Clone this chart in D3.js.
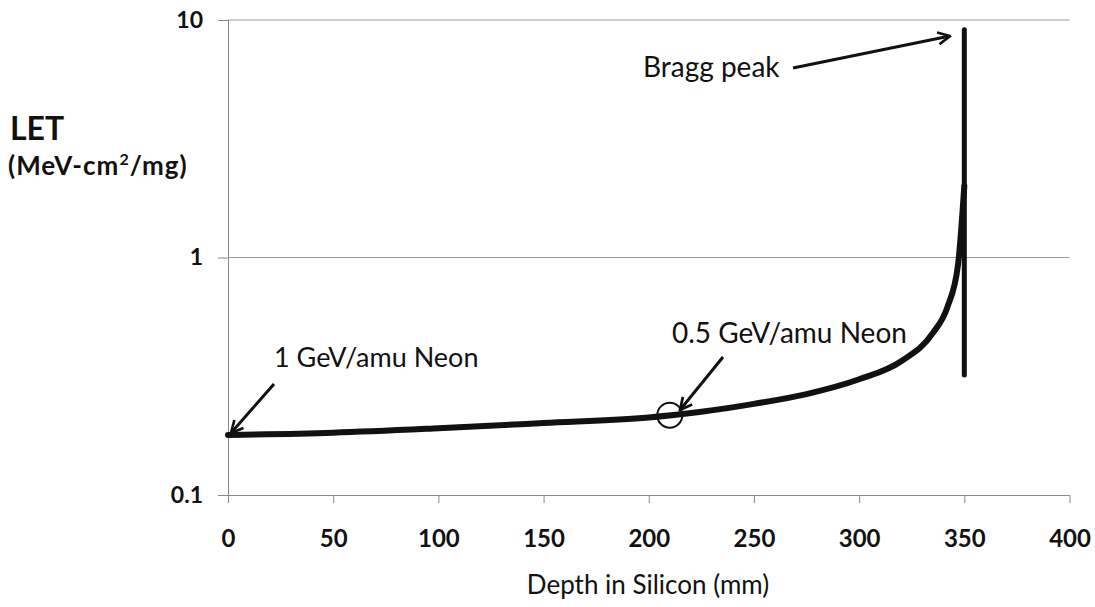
<!DOCTYPE html>
<html>
<head>
<meta charset="utf-8">
<script src="https://cdn.jsdelivr.net/npm/d3@7"></script>
<style>
  body { margin: 0; background: #fff; }
  text { font-family: Lato, "Open Sans", sans-serif; fill: #111; }
</style>
</head>
<body>
<svg width="1095" height="607"></svg>
<script>
// datos
const depth = [0, 50, 100, 150, 200, 225, 250, 275, 300, 320, 335, 342, 347, 350];
const letValues = [0.179, 0.183, 0.191, 0.201, 0.212, 0.224, 0.242, 0.266, 0.307, 0.366, 0.48, 0.62, 0.93, 2.0];
const braggDepth = 350;
const braggRange = [0.32, 9.1];
const xTicks = [0, 50, 100, 150, 200, 250, 300, 350, 400];
const yTicks = [0.1, 1, 10];
const markDepth = 210;

const svg = d3.select("svg");
const margin = {top: 20, right: 25, bottom: 112, left: 228};
const width = 1095 - margin.left - margin.right,
      height = 607 - margin.top - margin.bottom;

const g = svg.append("g").attr("transform", `translate(${margin.left},${margin.top})`);

const x = d3.scaleLinear().domain([0, 400]).range([0, width - 0.5]);
const y = d3.scaleLog().domain([0.1, 10]).range([height, 0]);

// marcador de flecha
svg.append("defs").append("marker")
  .attr("id", "arrow")
  .attr("viewBox", "0 0 10 10")
  .attr("refX", 9).attr("refY", 5)
  .attr("markerWidth", 5).attr("markerHeight", 5)
  .attr("orient", "auto")
  .append("path")
  .attr("d", "M1,1 L9,5 L1,9")
  .attr("fill", "none").attr("stroke", "#111").attr("stroke-width", 1.8);

// lineas de grilla
g.selectAll(".grid")
  .data(yTicks.slice(1))
  .enter().append("line")
  .attr("x1", 0).attr("x2", x(400))
  .attr("y1", d => y(d)).attr("y2", d => y(d))
  .attr("stroke", "#999").attr("stroke-width", 1);

// eje X
const xAxis = g.append("g")
  .attr("transform", `translate(0,${height})`)
  .call(d3.axisBottom(x).tickValues(xTicks).tickSize(8).tickPadding(27));
xAxis.select(".domain").attr("stroke", "#888").attr("d", `M0,0.5H${x(400)}`);
xAxis.selectAll(".tick line").attr("stroke", "#888");
xAxis.selectAll("text")
  .style("font-size", "24px").style("font-weight", "bold")
  .style("font-family", "Lato, sans-serif").attr("fill", "#111");

// eje Y
const yAxis = g.append("g")
  .call(d3.axisLeft(y).tickValues(yTicks).tickFormat(d3.format("~g")).tickSize(10).tickPadding(15));
yAxis.select(".domain").attr("stroke", "#888").attr("d", `M0.5,0V${height}`);
yAxis.selectAll(".tick line").attr("stroke", "#888");
yAxis.selectAll("text")
  .style("font-size", "23px").style("font-weight", "bold")
  .style("font-family", "Lato, sans-serif").attr("fill", "#111");

// curva LET
const line = d3.line()
  .x(d => x(d[0]))
  .y(d => y(d[1]))
  .curve(d3.curveMonotoneX);

g.append("path")
  .datum(depth.map((d, i) => [d, letValues[i]]))
  .attr("d", line)
  .attr("fill", "none")
  .attr("stroke", "#111")
  .attr("stroke-width", 6)
  .attr("stroke-linecap", "round");

// pico de Bragg (linea vertical)
g.append("line")
  .attr("x1", x(braggDepth)).attr("x2", x(braggDepth))
  .attr("y1", y(braggRange[0])).attr("y2", y(braggRange[1]))
  .attr("stroke", "#111").attr("stroke-width", 5)
  .attr("stroke-linecap", "round");

// circulo 0.5 GeV
const markY = d3.scaleLinear().domain(depth).range(letValues)(markDepth);
g.append("circle")
  .attr("cx", x(markDepth)).attr("cy", y(markY))
  .attr("r", 12.5)
  .attr("fill", "none").attr("stroke", "#111").attr("stroke-width", 2);

// flechas de anotacion
const arrows = [
  [274, 384, 231, 433],
  [723, 357, 680, 410],
  [793, 68, 950, 36]
];
svg.selectAll(".flecha")
  .data(arrows)
  .enter().append("line")
  .attr("x1", d => d[0]).attr("y1", d => d[1])
  .attr("x2", d => d[2]).attr("y2", d => d[3])
  .attr("stroke", "#111").attr("stroke-width", 3)
  .attr("marker-end", "url(#arrow)");

// textos de anotacion
svg.append("text").attr("x", 274).attr("y", 367)
  .style("font-size", "27px").text("1 GeV/amu Neon");
svg.append("text").attr("x", 672).attr("y", 343)
  .style("font-size", "28px").text("0.5 GeV/amu Neon");
svg.append("text").attr("x", 643).attr("y", 77)
  .style("font-size", "28px").text("Bragg peak");

// titulo eje Y
svg.append("text").attr("x", 10).attr("y", 140)
  .style("font-size", "32px").style("font-weight", "bold").text("LET");
const unidad = svg.append("text").attr("x", 8).attr("y", 175)
  .style("font-size", "26px").style("font-weight", "bold")
  .style("letter-spacing", "1px");
unidad.append("tspan").text("(MeV-cm");
unidad.append("tspan").attr("dy", -10).style("font-size", "16px").text("2");
unidad.append("tspan").attr("dy", 10).text("/mg)");

// titulo eje X
svg.append("text").attr("x", 648).attr("y", 594)
  .attr("text-anchor", "middle")
  .style("font-size", "26px").text("Depth in Silicon (mm)");
</script>
</body>
</html>
